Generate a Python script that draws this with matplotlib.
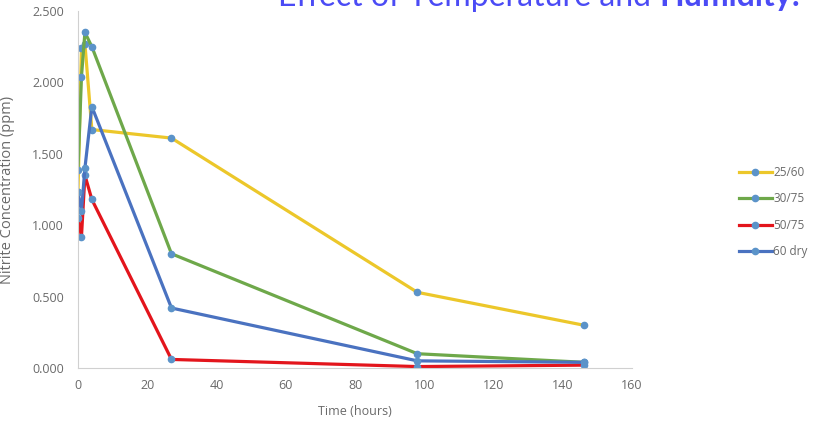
import matplotlib.pyplot as plt

# sampling times (hours)
hours = [0, 1, 2, 4, 27, 98, 146]

# nitrite concentration (ppm) per storage condition
c_25_60 = [1.23, 2.24, 2.27, 1.67, 1.61, 0.53, 0.30]
c_30_75 = [1.39, 2.04, 2.35, 2.25, 0.80, 0.10, 0.04]
c_50_75 = [1.05, 0.92, 1.35, 1.18, 0.06, 0.01, 0.02]
c_60_dry = [1.23, 1.10, 1.40, 1.83, 0.42, 0.05, 0.04]

labels = ['25/60', '30/75', '50/75', '60 dry']
series = [c_25_60, c_30_75, c_50_75, c_60_dry]
colors = ['#ecc72a', '#6ea84a', '#e3151c', '#4a72c0']
yticks = [0, 0.5, 1.0, 1.5, 2.0, 2.5]

plt.rcParams['font.family'] = ['Open Sans', 'DejaVu Sans']

fig = plt.figure(figsize=(8.13, 4.23), dpi=100)
ax = fig.add_axes([78 / 813, 55 / 423, 554 / 813, 357 / 423])

for vals, col, lab in zip(series, colors, labels):
    ax.plot(hours, vals, color=col, lw=2.3, marker='o', ms=4.5,
            mfc='#5b93c9', mec='#5b93c9', label=lab)

ax.set_xlim(0, 160)
ax.set_ylim(0, 2.5)
ax.set_xticks(range(0, 161, 20))
ax.set_yticks(yticks)
ax.set_yticklabels([f'{v:.3f}' for v in yticks])
ax.tick_params(length=0, labelsize=9, colors='#6a6a6a')
ax.tick_params(axis='y', pad=10)
ax.tick_params(axis='x', pad=8)

for s in ['top', 'right']:
    ax.spines[s].set_visible(False)
for s in ['left', 'bottom']:
    ax.spines[s].set_color('#d0d0d0')

ax.set_xlabel('Time (hours)', fontsize=9, color='#6a6a6a')
ax.set_ylabel('Nitrite Concentration (ppm)', fontsize=10.5, color='#6a6a6a')
ax.xaxis.set_label_coords(0.5, -0.105)
ax.yaxis.set_label_coords(-0.114, 0.5)

leg = fig.legend(loc='center left', bbox_to_anchor=(728 / 813, 1 - 212 / 423),
                 frameon=False, fontsize=8.5, handlelength=2.8,
                 labelspacing=1.15, handletextpad=0.15)
for t in leg.get_texts():
    t.set_color('#6a6a6a')

# title, mostly cut off at the top edge like the screenshot
base_y = 1 - 6 / 423
bold = fig.text(800 / 813, base_y, 'Humidity:', fontsize=23, fontweight='bold',
                family='Lato', color='#4b4bf5', ha='right', va='baseline')
fig.canvas.draw()
x0 = bold.get_window_extent().x0 / fig.bbox.width
fig.text(x0, base_y, 'Effect of Temperature and ', fontsize=23, family='Lato',
         color='#4b4bf5', ha='right', va='baseline')

fig.savefig('out.png', dpi=100)
